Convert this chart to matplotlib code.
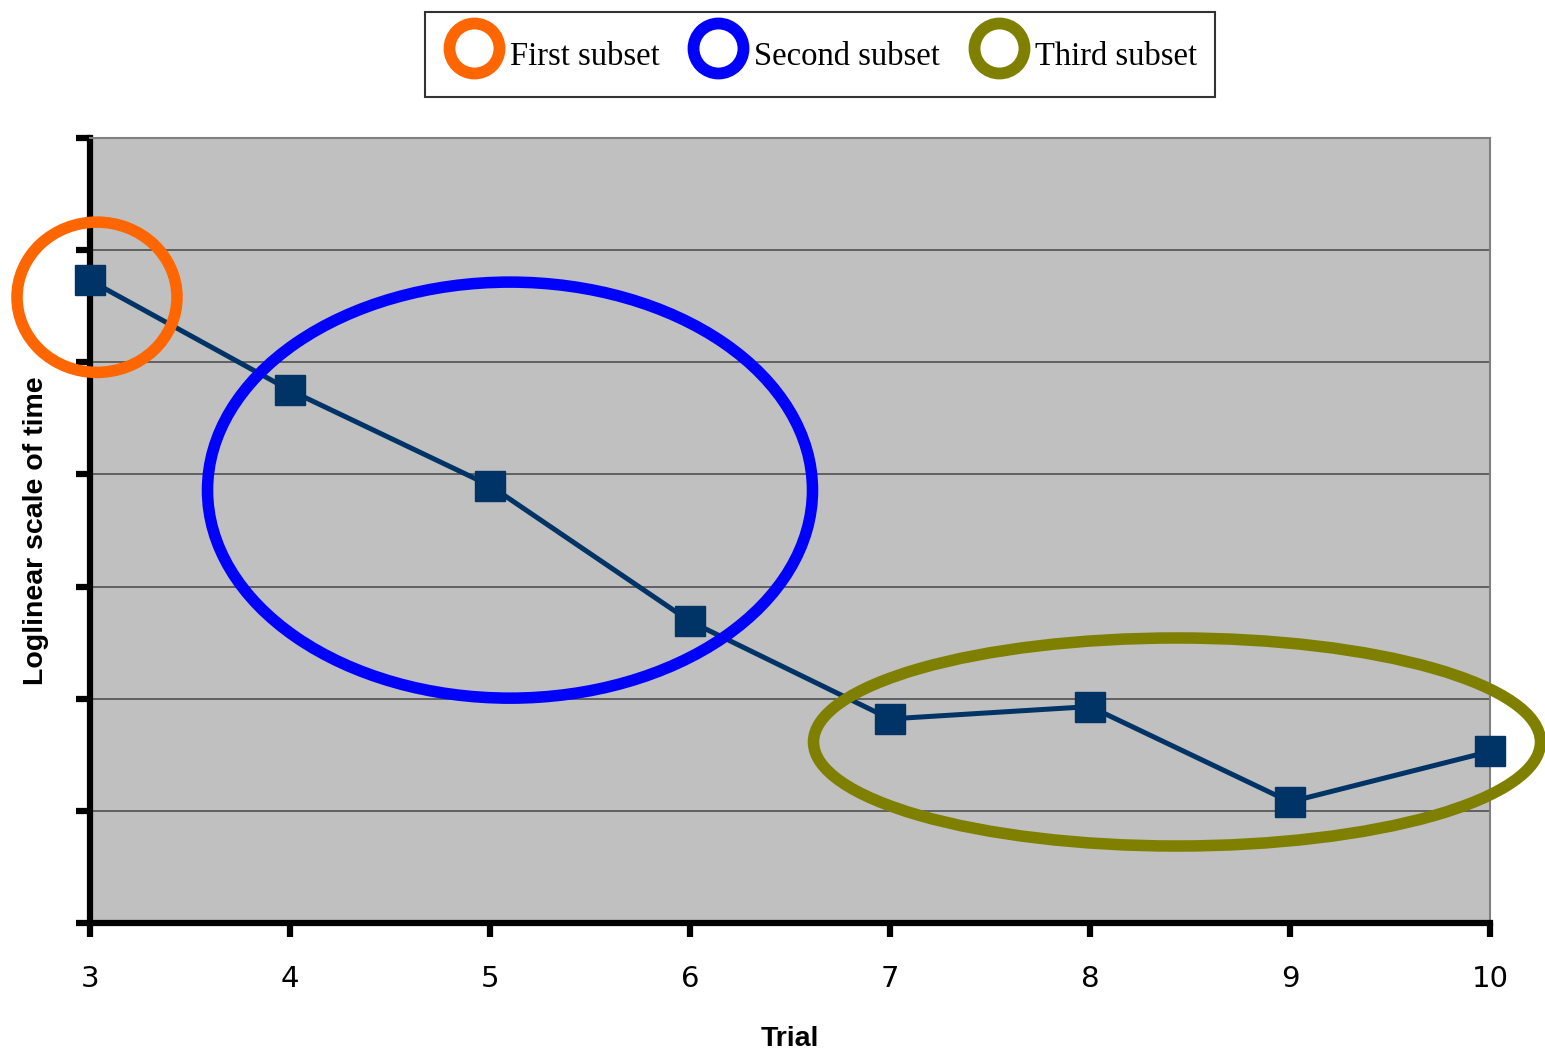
import matplotlib.pyplot as plt
from matplotlib.patches import Ellipse
from matplotlib.lines import Line2D

# datos
ensayo = [3, 4, 5, 6, 7, 8, 9, 10]
tiempo_log = [5.73, 4.75, 3.90, 2.69, 1.82, 1.93, 1.08, 1.53]

# subconjuntos: centro x, centro y, ancho, alto
nombres = ['First subset', 'Second subset', 'Third subset']
colores = ['#FF6600', '#0000FF', '#808000']
centro_x = [3.035, 5.1, 8.435]
centro_y = [5.58, 3.86, 1.614]
ancho = [0.80, 3.025, 3.635]
alto = [1.34, 3.71, 1.855]

fig = plt.figure(figsize=(15.45, 10.51), dpi=100)
ax = fig.add_axes([90/1545, 1 - 923/1051, 1400/1545, 785/1051])
ax.set_facecolor('#C0C0C0')

ax.plot(ensayo, tiempo_log, color='#003366', linewidth=3.6, marker='s',
        markersize=22, markerfacecolor='#003366', markeredgecolor='#003366',
        clip_on=False, zorder=3)

for i in range(len(nombres)):
    e = Ellipse((centro_x[i], centro_y[i]), ancho[i], alto[i], fill=False,
                edgecolor=colores[i], linewidth=8.3, clip_on=False, zorder=4)
    ax.add_patch(e)

ax.set_xlim(3, 10)
ax.set_ylim(0, 7)
ax.set_xticks(ensayo)
ax.set_yticks(range(8))
ax.set_yticklabels([])
ax.yaxis.grid(True, color='#505050', linewidth=1.2)
ax.set_axisbelow(True)

for lado in ['left', 'bottom']:
    ax.spines[lado].set_linewidth(4.5)
    ax.spines[lado].set_color('black')
for lado in ['top', 'right']:
    ax.spines[lado].set_linewidth(1.5)
    ax.spines[lado].set_color('#808080')

ax.tick_params(axis='both', length=10, width=4.5, color='black')
ax.tick_params(axis='x', labelsize=21, pad=20)
for t in ax.get_xticklabels():
    t.set_family('DejaVu Sans')

ax.set_xlabel('Trial', fontsize=20.5, fontweight='bold', family='Liberation Sans', labelpad=24)
ax.set_ylabel('Loglinear scale of time', fontsize=20.5, fontweight='bold',
              family='Liberation Sans', labelpad=16)

manijas = [Line2D([], [], linestyle='none', marker='o', markersize=36,
                  markerfacecolor='none', markeredgecolor=c, markeredgewidth=8.5)
           for c in colores]
ley = fig.legend(manijas, nombres, loc='center', bbox_to_anchor=(820/1545, 1 - 54.5/1051),
                 ncol=3, frameon=True, fancybox=False, edgecolor='black',
                 prop={'family': 'Liberation Serif', 'size': 23.5},
                 handletextpad=0.15, columnspacing=0.85, borderpad=0.55,
                 handlelength=1.9, handleheight=1.9)
ley.get_frame().set_linewidth(1.5)

plt.savefig('out.png')
